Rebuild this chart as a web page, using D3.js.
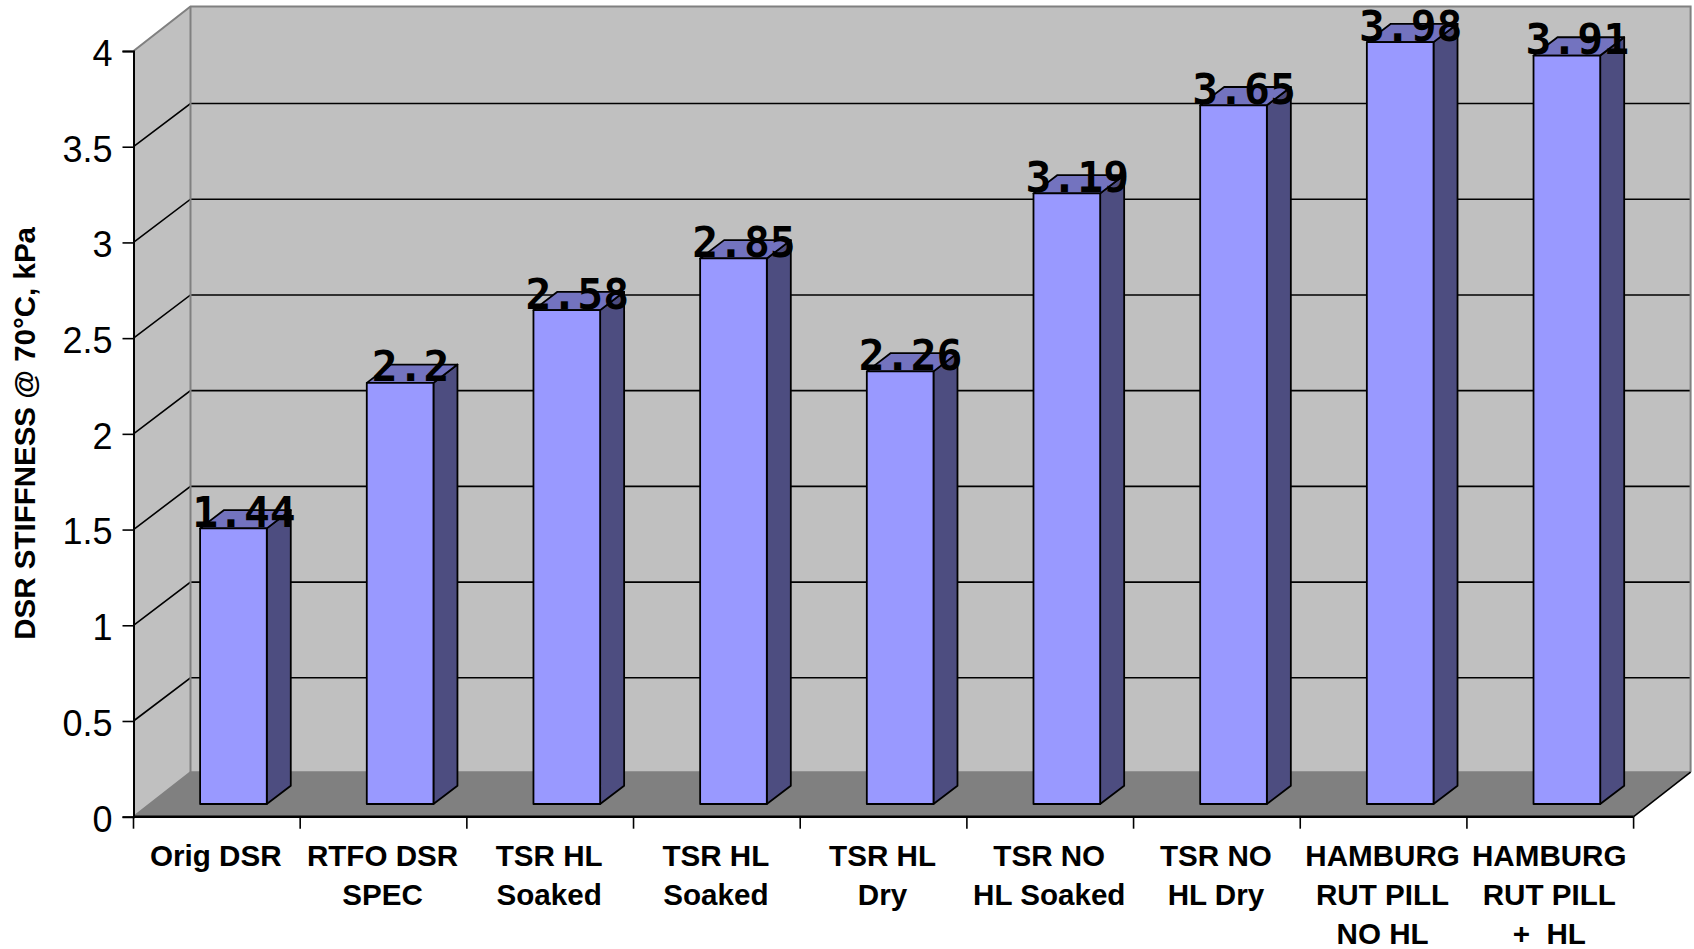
<!DOCTYPE html>
<html>
<head>
<meta charset="utf-8">
<style>
  html, body { margin: 0; padding: 0; background: #fff; }
  svg { display: block; }
  text { fill: #000; }
</style>
<script src="https://d3js.org/d3.v7.min.js"></script>
</head>
<body>
<svg id="chart" width="1694" height="949"></svg>
<script>
// Chart content
const categories = [
  ["Orig DSR"],
  ["RTFO DSR", "SPEC"],
  ["TSR HL", "Soaked"],
  ["TSR HL", "Soaked"],
  ["TSR HL", "Dry"],
  ["TSR NO", "HL Soaked"],
  ["TSR NO", "HL Dry"],
  ["HAMBURG", "RUT PILL", "NO HL"],
  ["HAMBURG", "RUT PILL", "+  HL"]
];
const stiffness = [1.44, 2.2, 2.58, 2.85, 2.26, 3.19, 3.65, 3.98, 3.91];
const yTicks = [0, 0.5, 1, 1.5, 2, 2.5, 3, 3.5, 4];
const yTitle = "DSR STIFFNESS @ 70\u00B0C, kPa";

// Plot box and the oblique depth of the 3D walls
const box = { left: 133.5, right: 1633.6, top: 51, bottom: 816.7 };
const depth = { dx: 57, dy: -44.5 };
const gridDy = -43.2;
const barDepth = { dx: 24, dy: -18.3 };
const barInset = { dx: 16.6, dy: -12.7 };

const colors = {
  wall: "#C0C0C0", floor: "#808080", edge: "#808080",
  front: "#9999FF", side: "#4D4D80", cap: "#7373BF"
};

const keys = categories.map((_, i) => i);
const x = d3.scaleBand().domain(keys).range([box.left, box.right]).paddingInner(0).paddingOuter(0);
const y = d3.scaleLinear().domain([0, 4]).range([box.bottom, box.top]);

const barWidth = x.bandwidth() * 0.4;
const svg = d3.select("#chart");
const poly = pts => pts.map(p => p.join(",")).join(" ");

// Box walls and floor
const walls = svg.append("g");
const backX0 = box.left + depth.dx, backX1 = box.right + depth.dx;
const backY0 = box.bottom + depth.dy, backY1 = box.top + depth.dy;
walls.append("polygon")
  .attr("points", poly([[box.left, box.top], [backX0, backY1], [backX0, backY0], [box.left, box.bottom]]))
  .attr("fill", colors.wall);
walls.append("polygon")
  .attr("points", poly([[backX0, backY1], [backX1, backY1], [backX1, backY0], [backX0, backY0]]))
  .attr("fill", colors.wall);
walls.append("polygon")
  .attr("points", poly([[box.left, box.bottom], [box.right, box.bottom], [backX1, backY0], [backX0, backY0]]))
  .attr("fill", colors.floor);

// Gridlines on the side wall and the back wall
const grid = svg.append("g").attr("stroke", "#000").attr("stroke-width", 1.6).attr("fill", "none");
yTicks.filter(t => t > 0 && t < 4).forEach(t => {
  grid.append("polyline").attr("points", poly([
    [box.left, y(t)], [backX0, y(t) + gridDy], [backX1, y(t) + gridDy]
  ]));
});

// Wall outlines
const edges = svg.append("g").attr("stroke", colors.edge).attr("stroke-width", 2).attr("fill", "none");
edges.append("polyline").attr("points", poly([
  [box.left, box.top], [backX0, backY1], [backX1, backY1], [backX1, backY0]
]));
edges.append("line").attr("x1", backX0).attr("x2", backX0).attr("y1", backY1).attr("y2", backY0);
edges.append("polyline").attr("points", poly([
  [box.left, box.bottom], [backX0, backY0], [backX1, backY0]
]));
svg.append("line")
  .attr("x1", box.right).attr("y1", box.bottom).attr("x2", backX1).attr("y2", backY0)
  .attr("stroke", "#000").attr("stroke-width", 1.6);

// Bars: front, side and cap faces
const bars = svg.append("g").selectAll("g").data(stiffness).join("g")
  .attr("stroke", "#000").attr("stroke-width", 1.8).attr("stroke-linejoin", "round");
const frontX = (d, i) => x(i) + x.bandwidth() / 2 - barWidth / 2 + barInset.dx;
const barBase = y(0) + barInset.dy;
const barTop = d => y(d) + barInset.dy;

bars.append("polygon").attr("fill", colors.side).attr("points", (d, i) => {
  const r = frontX(d, i) + barWidth;
  return poly([[r, barTop(d)], [r + barDepth.dx, barTop(d) + barDepth.dy], [r + barDepth.dx, barBase + barDepth.dy], [r, barBase]]);
});
bars.append("polygon").attr("fill", colors.cap).attr("points", (d, i) => {
  const l = frontX(d, i), r = l + barWidth;
  return poly([[l, barTop(d)], [l + barDepth.dx, barTop(d) + barDepth.dy], [r + barDepth.dx, barTop(d) + barDepth.dy], [r, barTop(d)]]);
});
bars.append("rect").attr("fill", colors.front)
  .attr("x", frontX).attr("y", barTop).attr("width", barWidth).attr("height", d => barBase - barTop(d));

// Value axis
const yAxis = d3.axisLeft(y).tickValues(yTicks).tickSize(11).tickPadding(10).tickFormat(d3.format("~g"));
const yG = svg.append("g").attr("transform", `translate(${box.left},0)`).call(yAxis);
yG.select(".domain").attr("stroke", "#000").attr("stroke-width", 2);
yG.selectAll(".tick line").attr("stroke", "#000").attr("stroke-width", 1.6);
yG.selectAll(".tick text")
  .attr("font-family", "'Liberation Sans', Arial, sans-serif").attr("font-size", 36)
  .attr("dy", "0.40em").style("fill", "#000");

// Category axis with tick marks on band boundaries
const boundaries = keys.map(i => x(i)).concat(box.right);
const xAxisLine = svg.append("g");
xAxisLine.append("line")
  .attr("x1", box.left).attr("x2", box.right).attr("y1", box.bottom).attr("y2", box.bottom)
  .attr("stroke", "#000").attr("stroke-width", 2.4);
xAxisLine.selectAll("line.t").data(boundaries).join("line").attr("class", "t")
  .attr("x1", d => d).attr("x2", d => d)
  .attr("y1", box.bottom).attr("y2", box.bottom + 12)
  .attr("stroke", "#000").attr("stroke-width", 1.6);

// Category labels, wrapped as separate lines
const catLabels = svg.append("g")
  .attr("font-family", "'Liberation Sans', Arial, sans-serif")
  .attr("font-weight", "bold").attr("font-size", 29.6).attr("text-anchor", "middle");
categories.forEach((lines, i) => {
  lines.forEach((line, k) => {
    catLabels.append("text")
      .attr("x", x(i) + x.bandwidth() / 2 - 1)
      .attr("y", 866 + k * 39)
      .style("white-space", "pre")
      .text(line);
  });
});

// Axis title
svg.append("text")
  .attr("transform", `translate(35,${(box.top + box.bottom) / 2 - 0.5}) rotate(-90)`)
  .attr("text-anchor", "middle")
  .attr("font-family", "'Liberation Sans', Arial, sans-serif")
  .attr("font-weight", "bold").attr("font-size", 29.5)
  .text(yTitle);

// Value labels over the bar tops
svg.append("g").selectAll("text").data(stiffness).join("text")
  .attr("x", (d, i) => frontX(d, i) + barWidth / 2 + 10.5)
  .attr("y", d => barTop(d) - 1.5)
  .attr("text-anchor", "middle")
  .attr("font-family", "'DejaVu Sans Mono', monospace")
  .attr("font-weight", "bold").attr("font-size", 43)
  .text(d => d);
</script>
</body>
</html>
